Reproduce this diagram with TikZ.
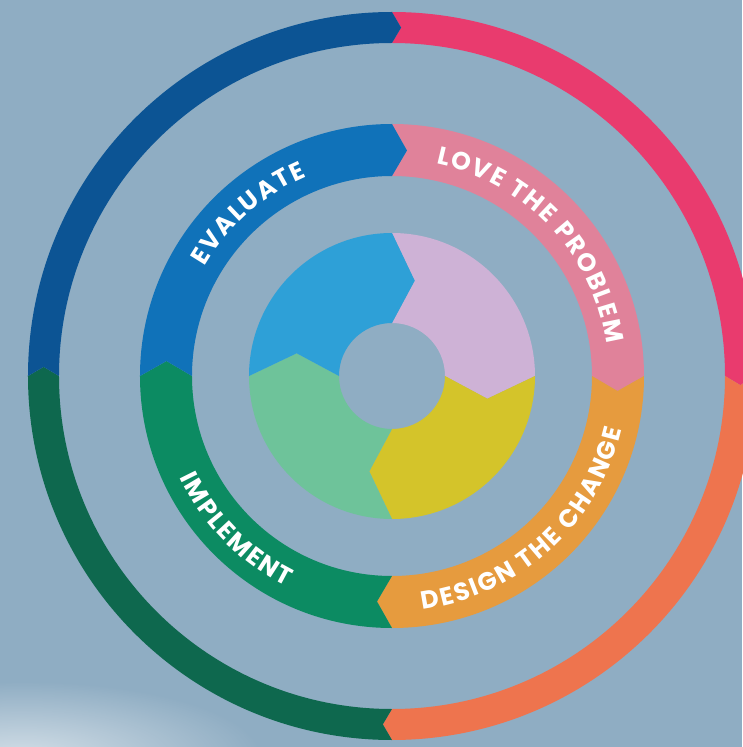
\documentclass[tikz,border=0pt]{standalone}
\usepackage{fontspec}
\setmainfont{Poppins}
\usetikzlibrary{decorations.text,fadings}

\definecolor{bgblue}{HTML}{8FADC3}
\definecolor{outblue}{HTML}{0C5494}
\definecolor{outpink}{HTML}{E93B6E}
\definecolor{outorange}{HTML}{EE744E}
\definecolor{outgreen}{HTML}{0E684E}
\definecolor{midblue}{HTML}{1072B9}
\definecolor{midpink}{HTML}{E0829A}
\definecolor{midorange}{HTML}{E69B3E}
\definecolor{midgreen}{HTML}{0C8B62}
\definecolor{inblue}{HTML}{2EA0D7}
\definecolor{inlilac}{HTML}{CEB2D6}
\definecolor{inyellow}{HTML}{D4C42A}
\definecolor{ingreen}{HTML}{6EC39A}

\tikzfading[name=softglow, inner color=transparent!0, outer color=transparent!100]

% one quarter of a ring, running clockwise from #1 to #1-90
% #1 start angle, #2 inner r, #3 outer r, #4 tip angle, #5 colour
\newcommand{\ringpart}[5]{%
  \fill[#5] (#1:#3) arc[start angle=#1, end angle={#1-90}, radius=#3]
    -- ({#1-90-#4}:{(#2+#3)/2}) -- ({#1-90}:#2)
    arc[start angle={#1-90}, end angle=#1, radius=#2]
    -- ({#1-#4}:{(#2+#3)/2}) -- cycle;}
\newcommand{\stagefont}{\bfseries\fontsize{25}{25}\selectfont}

\begin{document}
\begin{tikzpicture}[x=1pt,y=1pt]
  \tikzstyle{stagetext}=[decorate,decoration={text effects along path,text align=center,
      text effects/.cd, text along path, characters={text=white,font=\stagefont},
      character widths={inner xsep=0.9pt,font=\stagefont}}]

  \useasboundingbox (-392,-371) rectangle (350,376);
  \fill[bgblue] (-392,-371) rectangle (350,376);
  \fill[white,opacity=.6,path fading=softglow] (-370,-380) ellipse[x radius=240, y radius=75];

  % outer ring
  \foreach \a/\c in {90/outpink, 0/outorange, -90/outgreen, 180/outblue}
    \ringpart{\a}{333}{364}{1.5}{\c};
  % middle ring
  \foreach \a/\c in {90/midpink, 0/midorange, -90/midgreen, 180/midblue}
    \ringpart{\a}{200}{252}{3.8}{\c};
  % inner ring
  \foreach \a/\c in {90/inlilac, 0/inyellow, -90/ingreen, 180/inblue}
    \ringpart{\a}{53}{143}{13.4}{\c};

  % labels on the middle ring
  \path[stagetext,decoration={text={EVALUATE}}]
    (191.5:217) arc[start angle=191.5, end angle=71.5, radius=217];
  \path[stagetext,decoration={text={LOVE THE PROBLEM}}]
    (103.4:217) arc[start angle=103.4, end angle=-16.6, radius=217];
  \path[stagetext,decoration={text={DESIGN THE CHANGE}}]
    (-107.8:235.5) arc[start angle=-107.8, end angle=12.2, radius=235.5];
  \path[stagetext,decoration={text={IMPLEMENT}}]
    (164.5:235.5) arc[start angle=164.5, end angle=284.5, radius=235.5];
\end{tikzpicture}
\end{document}
